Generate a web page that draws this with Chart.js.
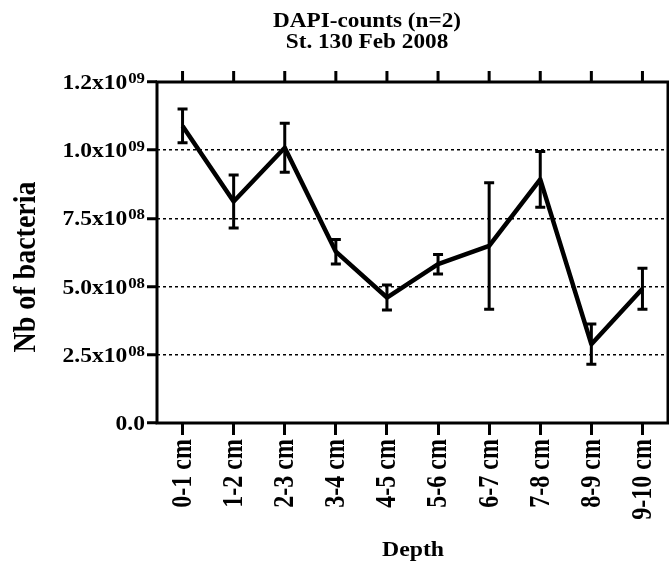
<!DOCTYPE html>
<html>
<head>
<meta charset="utf-8">
<title>DAPI-counts</title>
<script src="https://cdn.jsdelivr.net/npm/chart.js@4.4.1/dist/chart.umd.min.js"></script>
<style>
html, body { margin: 0; padding: 0; background: #fff; }
#wrap { position: relative; width: 669px; height: 563px; }
</style>
</head>
<body>
<div id="wrap"><canvas id="dapiChart" width="669" height="563"></canvas></div>
<script>
// Depth slices and bacteria counts (mean +/- SEM, n=2)
var depths = ['0-1 cm', '1-2 cm', '2-3 cm', '3-4 cm', '4-5 cm', '5-6 cm', '6-7 cm', '7-8 cm', '8-9 cm', '9-10 cm'];
var meanCounts = [1.089e9, 8.12e8, 1.009e9, 6.28e8, 4.60e8, 5.82e8, 6.49e8, 8.93e8, 2.89e8, 4.92e8];
var semCounts = [6.2e7, 9.7e7, 9.0e7, 4.5e7, 4.6e7, 3.6e7, 2.32e8, 1.02e8, 7.4e7, 7.5e7];

// Y tick labels: mantissa part and superscript exponent
var yTickBase = ['0.0', '2.5x10', '5.0x10', '7.5x10', '1.0x10', '1.2x10'];
var yTickExp = ['', '08', '08', '08', '09', '09'];

var titleLines = ['DAPI-counts (n=2)', 'St. 130 Feb 2008'];
var xTitle = 'Depth';
var yTitle = 'Nb of bacteria';

var FONT = '"Liberation Serif", "Times New Roman", serif';

function drawText(ctx, text, x, y, size, sx, align, baseline, rotate) {
	ctx.save();
	ctx.translate(x, y);
	ctx.scale(sx, 1);
	if (rotate) ctx.rotate(-Math.PI / 2);
	ctx.font = 'bold ' + size + 'px ' + FONT;
	ctx.fillStyle = '#000';
	ctx.textAlign = align;
	ctx.textBaseline = baseline;
	ctx.fillText(text, 0, 0);
	var w = ctx.measureText(text).width * sx;
	ctx.restore();
	return w;
}

// Box around the plot area plus the mirrored tick marks on top.
var framePlugin = {
	id: 'frame',
	beforeDatasetsDraw: function(chart) {
		var ctx = chart.ctx, a = chart.chartArea, xs = chart.scales.x;
		ctx.save();
		ctx.strokeStyle = '#000';
		ctx.lineWidth = 3;
		ctx.strokeRect(a.left, a.top, a.right - a.left, a.bottom - a.top);
		ctx.beginPath();
		xs.ticks.forEach(function(t, i) {
			var x = xs.getPixelForTick(i);
			ctx.moveTo(x, a.top);
			ctx.lineTo(x, a.top - 11);
		});
		ctx.stroke();
		ctx.restore();
	}
};

// Error bars (mean +/- SEM).
var errorBarPlugin = {
	id: 'errorBars',
	afterDatasetsDraw: function(chart) {
		var ctx = chart.ctx, xs = chart.scales.x, ys = chart.scales.y;
		ctx.save();
		ctx.strokeStyle = '#000';
		ctx.lineWidth = 3;
		meanCounts.forEach(function(m, i) {
			var x = xs.getPixelForValue(i);
			var yTop = ys.getPixelForValue(m + semCounts[i]);
			var yBot = ys.getPixelForValue(m - semCounts[i]);
			ctx.beginPath();
			ctx.moveTo(x, yTop); ctx.lineTo(x, yBot);
			ctx.moveTo(x - 5, yTop); ctx.lineTo(x + 5, yTop);
			ctx.moveTo(x - 5, yBot); ctx.lineTo(x + 5, yBot);
			ctx.stroke();
		});
		ctx.restore();
	}
};

// Titles and tick labels (serif, with superscript exponents).
var labelPlugin = {
	id: 'labels',
	afterDraw: function(chart) {
		var ctx = chart.ctx, xs = chart.scales.x, ys = chart.scales.y, a = chart.chartArea;

		drawText(ctx, titleLines[0], 367, 27, 21.5, 1.08, 'center', 'alphabetic', false);
		drawText(ctx, titleLines[1], 367, 48, 21.5, 1.08, 'center', 'alphabetic', false);

		ys.ticks.forEach(function(t, i) {
			var y = ys.getPixelForTick(i);
			var right = a.left - 12;
			var expW = 0;
			if (yTickExp[i]) {
				expW = drawText(ctx, yTickExp[i], right, y + 1, 14, 1.2, 'right', 'alphabetic', false) + 1;
			}
			drawText(ctx, yTickBase[i], right - expW, y + 7, 21, 1.12, 'right', 'alphabetic', false);
		});

		xs.ticks.forEach(function(t, i) {
			var x = xs.getPixelForTick(i);
			drawText(ctx, depths[i], x + 1, a.bottom + 16, 24, 1.2, 'right', 'middle', true);
		});

		drawText(ctx, xTitle, 413, 556, 22, 1.08, 'center', 'alphabetic', false);
		drawText(ctx, yTitle, 27, 267, 28, 1.12, 'center', 'middle', true);
	}
};

new Chart(document.getElementById('dapiChart'), {
	type: 'line',
	data: {
		labels: depths,
		datasets: [{
			data: meanCounts,
			borderColor: '#000',
			borderWidth: 4.5,
			borderJoinStyle: 'round',
			pointRadius: 0,
			tension: 0,
			fill: false
		}]
	},
	options: {
		responsive: false,
		animation: false,
		layout: { padding: { top: 82, right: 1, left: 0, bottom: 0 } },
		plugins: {
			legend: { display: false },
			tooltip: { enabled: false }
		},
		scales: {
			x: {
				type: 'category',
				offset: true,
				ticks: { display: false },
				border: { display: false },
				grid: {
					drawOnChartArea: false,
					tickLength: 12,
					tickWidth: 3,
					tickColor: '#000'
				},
				afterFit: function(scale) { scale.height = 140; }
			},
			y: {
				min: 0,
				max: 1.25e9,
				ticks: { display: false, stepSize: 2.5e8 },
				border: { display: false, dash: [3, 3] },
				grid: {
					color: function(c) {
						return (c.tick && (c.tick.value === 0 || c.tick.value === 1.25e9)) ? 'rgba(0,0,0,0)' : '#000';
					},
					lineWidth: 1.5,
					tickLength: 10,
					tickWidth: 3,
					tickColor: '#000',
					tickBorderDash: []
				},
				afterFit: function(scale) { scale.width = 157; }
			}
		}
	},
	plugins: [framePlugin, errorBarPlugin, labelPlugin]
});
</script>
</body>
</html>
